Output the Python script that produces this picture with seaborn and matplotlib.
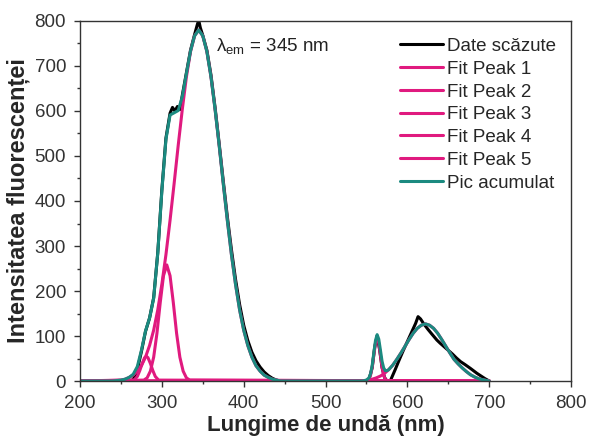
import matplotlib
matplotlib.use("Agg")
import matplotlib.pyplot as plt
from matplotlib.ticker import MultipleLocator
import seaborn as sns

# Date scăzute (measured spectrum)
data_wl = [200, 260, 265, 270, 275, 280, 285, 290, 295, 300, 305, 310, 313, 316, 319, 322,
           325, 330, 335, 340, 343, 345, 347, 350, 355, 360, 365, 370, 375, 380, 385, 390,
           395, 400, 405, 410, 415, 420, 425, 430, 435, 440, 445, 550, 553, 557, 560, 563,
           566, 569, 572, 575, 579, 585, 590, 595, 600, 605, 610, 613, 616, 620, 625, 630,
           636, 640, 645, 650, 655, 660, 665, 670, 677, 685, 690, 695, 700]
data_int = [0, 0, 3, 25, 65, 110, 140, 185, 285, 425, 540, 595, 608, 600, 610, 603,
            635, 685, 735, 770, 790, 802, 785, 768, 735, 680, 608, 528, 445, 365, 292, 226,
            170, 124, 90, 64, 45, 31, 20, 12, 6, 2, 0, 0, 3, 30, 75, 100,
            70, 30, 8, 0, 0, 25, 47, 68, 88, 108, 128, 143, 138, 127, 115, 104,
            91, 84, 76, 68, 60, 51, 43, 37, 28, 17, 11, 5, 0]

# Fit Peak 1
p1_wl = [200, 266, 270, 273, 276, 279, 281, 283, 286, 289, 292, 296, 700]
p1_int = [0, 2, 10, 23, 39, 52, 55, 52, 39, 23, 10, 2, 0]

# Fit Peak 2
p2_wl = [200, 278, 282, 286, 290, 294, 298, 302, 306, 310, 314, 318, 322, 326, 330, 334, 700]
p2_int = [0, 2, 7, 22, 53, 106, 174, 234, 258, 234, 174, 106, 53, 22, 7, 2, 0]

# Fit Peak 3
p3_wl = [200, 250, 255, 260, 265, 270, 275, 280, 285, 290, 295, 300, 305, 310, 315, 320,
         325, 330, 335, 340, 345, 350, 355, 360, 365, 370, 375, 380, 385, 390, 395, 400,
         405, 410, 415, 420, 425, 430, 435, 440, 445, 700]
p3_int = [0, 2, 4, 8, 13, 22, 34, 53, 79, 113, 158, 215, 281, 357, 439, 524,
          604, 676, 732, 767, 780, 767, 732, 676, 604, 524, 439, 357, 281, 215, 158, 113,
          79, 53, 34, 22, 13, 8, 4, 2, 0, 0]

# Fit Peak 4
p4_wl = [200, 551, 553, 555, 557, 559, 561, 563, 565, 567, 569, 571, 573, 575, 700]
p4_int = [0, 1, 4, 13, 31, 58, 84, 95, 84, 58, 31, 13, 4, 1, 0]

# Fit Peak 5
p5_wl = [200, 542, 547, 552, 557, 562, 567, 572, 577, 582, 587, 592, 597, 602, 607, 612,
         617, 622, 627, 632, 637, 642, 647, 652, 657, 662, 667, 672, 677, 682, 687, 692,
         697, 700]
p5_int = [0, 1, 1, 2, 4, 7, 11, 17, 25, 35, 48, 62, 77, 92, 106, 117,
          124, 127, 124, 117, 106, 92, 77, 62, 48, 38, 29, 21, 14, 9, 5, 3,
          1, 0]

# Pic acumulat
cum_wl = [200, 240, 245, 250, 255, 260, 265, 270, 275, 280, 285, 290, 295, 300, 305, 310,
          315, 320, 325, 330, 335, 340, 345, 350, 355, 360, 365, 370, 375, 380, 385, 390,
          395, 400, 405, 410, 415, 420, 425, 430, 435, 440, 445, 545, 550, 553, 555, 557,
          559, 561, 563, 565, 567, 569, 571, 573, 575, 577, 582, 587, 592, 597, 602, 607,
          612, 617, 622, 627, 632, 637, 642, 647, 652, 657, 662, 667, 672, 677, 682, 687,
          692, 697, 700]
cum_int = [0, 0, 1, 2, 4, 8, 15, 32, 68, 111, 140, 184, 284, 422, 537, 591,
           596, 601, 632, 683, 733, 767, 780, 767, 732, 676, 604, 524, 439, 357, 281, 215,
           158, 113, 79, 53, 34, 22, 13, 8, 4, 2, 0, 0, 2, 7, 16, 35,
           63, 90, 103, 93, 69, 44, 29, 23, 23, 25, 35, 48, 62, 77, 92, 106,
           117, 124, 127, 124, 117, 106, 92, 77, 62, 48, 38, 29, 21, 14, 9, 5,
           3, 1, 0]

black = '#000000'
pink = '#E01A7F'
teal = '#1B8A80'

sns.set_style('white')
plt.rcParams['font.family'] = ['Liberation Sans', 'DejaVu Sans']
plt.rcParams['mathtext.default'] = 'regular'

fig = plt.figure(figsize=(5.9, 4.42), dpi=100)
ax = fig.add_axes([0.1356, 0.138, 0.8324, 0.8145])

lw = 2.2
sns.lineplot(x=data_wl, y=data_int, color=black, linewidth=lw, label='Date scăzute', ax=ax)
peaks = [(p1_wl, p1_int), (p2_wl, p2_int), (p3_wl, p3_int), (p4_wl, p4_int), (p5_wl, p5_int)]
for i, (wl, val) in enumerate(peaks):
    sns.lineplot(x=wl, y=val, color=pink, linewidth=lw, label=f'Fit Peak {i + 1}', ax=ax)
sns.lineplot(x=cum_wl, y=cum_int, color=teal, linewidth=lw, label='Pic acumulat', ax=ax)

ax.set_xlim(200, 800)
ax.set_ylim(0, 800)
ax.xaxis.set_major_locator(MultipleLocator(100))
ax.xaxis.set_minor_locator(MultipleLocator(50))
ax.yaxis.set_major_locator(MultipleLocator(100))
ax.yaxis.set_minor_locator(MultipleLocator(50))
ax.tick_params(which='both', direction='out', bottom=True, left=True, top=False, right=False,
               colors='#333333', labelsize=13.5)
ax.tick_params(which='major', length=4, width=1, pad=6)
ax.tick_params(which='minor', length=2.5, width=1)
for s in ax.spines.values():
    s.set_color('#333333')
    s.set_linewidth(1)

ax.set_xlabel('Lungime de undă (nm)', fontsize=16, fontweight='bold', labelpad=2)
ax.set_ylabel('Intensitatea fluorescenței', fontsize=17, fontweight='bold', labelpad=3)

ax.text(366, 744, r'$\lambda_{em}$ = 345 nm', fontsize=13.5, color='#222222', va='center')

ax.legend(loc='upper right', bbox_to_anchor=(0.97, 0.953), frameon=False, fontsize=13.5,
          handlelength=2.3, handletextpad=0.25, labelspacing=0.3, borderaxespad=0.0,
          borderpad=0.0)

fig.savefig('out.png', dpi=100)
plt.close(fig)
